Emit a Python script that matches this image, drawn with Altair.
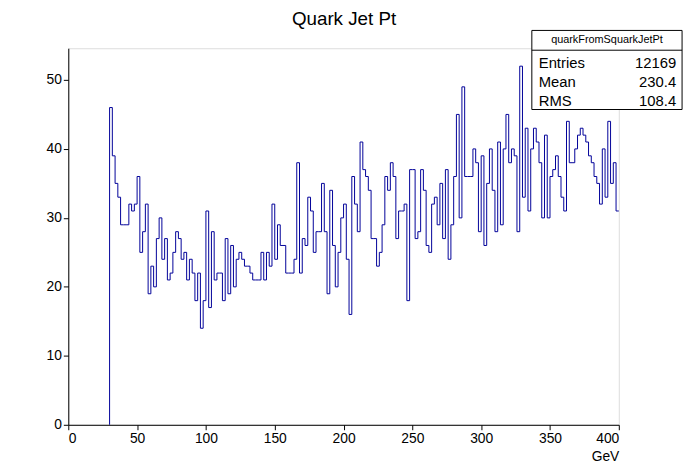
import altair as alt
import pandas as pd

# bin contents, 2 GeV bins from 30 to 400 GeV
counts = [46, 39, 35, 33, 29, 29, 29, 32, 31, 32, 36, 25, 28, 32, 19, 23, 20, 27, 30, 24,
          27, 21, 22, 25, 28, 27, 24, 25, 21, 24, 22, 18, 22, 14, 18, 31, 17, 28, 21, 22,
          22, 18, 27, 19, 26,
          20, 24, 25, 24, 23, 23, 22, 21, 21, 21, 25, 21, 25, 23, 32, 24, 29, 26, 26, 22,
          22, 22, 24, 38, 22, 27, 26, 33, 31, 25, 28, 28, 35, 28, 19, 34, 26, 20, 25, 30,
          32, 24, 16, 36, 32, 28, 41, 37,
          36, 34, 27, 27, 23, 25, 29, 36, 34, 38, 36, 27, 31, 31, 32, 18, 37, 37, 27, 28,
          37, 34, 26, 25, 32, 33, 29, 35, 27, 37, 24, 29, 36, 45, 30, 49, 36, 36, 36, 40,
          38, 28, 39, 26, 35, 40, 34, 28,
          41, 29, 40, 45, 38, 40, 39, 28, 52, 33, 43, 31, 40, 43, 41, 38, 30, 42, 30, 36,
          37, 39, 36, 33, 31, 44, 38, 38, 40, 42, 43, 42, 41, 39, 38, 36, 35, 32, 40, 33,
          44, 35, 38, 31]
x_low = 30
bin_w = 2
stat_names = ["Entries", "Mean", "RMS"]
stat_values = ["12169", "230.4", "108.4"]

xs = [x_low] + [x_low + bin_w * i for i in range(len(counts))] + [x_low + bin_w * len(counts)]
ys = [0] + counts + [counts[-1]]
hist = pd.DataFrame({"x": xs, "y": ys, "o": range(len(xs))})

W, H = 557, 381
font = "Liberation Sans"

line = alt.Chart(hist).mark_line(interpolate="step-after", color="#000099", strokeWidth=1).encode(
    x=alt.X("x:Q", scale=alt.Scale(domain=[0, 400], nice=False),
            axis=alt.Axis(values=list(range(0, 401, 50)), title="GeV", titleAnchor="end",
                          titleFontWeight="normal", titleFont=font, titleFontSize=14,
                          labelFont=font, labelFontSize=14, grid=False, tickColor="black",
                          domainColor="black", labelColor="black", titleColor="black")),
    y=alt.Y("y:Q", scale=alt.Scale(domain=[0, 54.6], nice=False),
            axis=alt.Axis(values=list(range(0, 51, 10)), title=None, labelFont=font,
                          labelFontSize=14, grid=False, tickColor="black",
                          domainColor="black", labelColor="black")),
    order="o:Q",
)

title = alt.Chart(pd.DataFrame({"t": ["Quark Jet Pt"]})).mark_text(
    font=font, fontSize=19, color="black").encode(
    text="t:N", x=alt.value(279), y=alt.value(-29))

box = alt.Chart(pd.DataFrame({"a": [0]})).mark_rect(
    fill="white", stroke="black", strokeWidth=1).encode(
    x=alt.value(469), x2=alt.value(621), y=alt.value(-18), y2=alt.value(62))
sep = alt.Chart(pd.DataFrame({"a": [0]})).mark_rule(color="black").encode(
    x=alt.value(469), x2=alt.value(621), y=alt.value(2))
head = alt.Chart(pd.DataFrame({"t": ["quarkFromSquarkJetPt"]})).mark_text(
    font=font, fontSize=11, color="black").encode(
    text="t:N", x=alt.value(545), y=alt.value(-8))

stats = pd.DataFrame({"n": stat_names, "v": stat_values, "yy": [15, 34, 53]})
names = alt.Chart(stats).mark_text(font=font, fontSize=15, align="left", color="black").encode(
    text="n:N", x=alt.value(476), y=alt.Y("yy:Q", scale=None))
vals = alt.Chart(stats).mark_text(font=font, fontSize=15, align="right", color="black").encode(
    text="v:N", x=alt.value(615), y=alt.Y("yy:Q", scale=None))

chart = alt.layer(line, title, box, sep, head, names, vals).properties(
    width=W, height=H, autosize="none",
    padding={"left": 61, "top": 38, "right": 70, "bottom": 40},
).configure_view(stroke="black", strokeWidth=1).configure(background="white")

chart.save("out.html", embed_options={"renderer": "svg", "actions": False})
